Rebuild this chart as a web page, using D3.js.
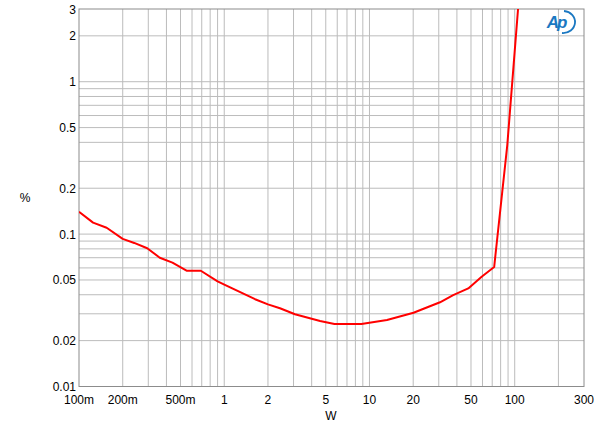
<!DOCTYPE html>
<html lang="en">
<head>
    <meta charset="UTF-8">
    <title>THD+N vs power</title>
    <script src="https://d3js.org/d3.v7.min.js"></script>
    <style>
        body { margin: 0; background: #fff; }
        svg text {
            font-family: "Liberation Sans", Arial, sans-serif;
            font-size: 12px;
            fill: #000;
        }
        .grid line {
            stroke: #bcbcbc;
            stroke-width: 1;
        }
        .frame {
            fill: none;
            stroke: #8c8c8c;
            stroke-width: 1;
        }
        .curve {
            fill: none;
            stroke: #ff0000;
            stroke-width: 2;
            stroke-linejoin: round;
        }
    </style>
</head>
<body>
<svg width="600" height="430"></svg>

<script>
    // output power (W) and THD+N (%)
    const watts = [0.1, 0.125, 0.155, 0.2, 0.24, 0.295, 0.36, 0.44, 0.55, 0.69, 0.9, 1.01,
                   1.63, 2.0, 2.42, 3.07, 4.57, 5.74, 8.8, 13.2, 20.1, 30.6, 37.7, 47.9,
                   59.2, 72.2, 88.9, 110];
    const thd = [0.140, 0.119, 0.110, 0.093, 0.0875, 0.0808, 0.0700, 0.0650, 0.0575, 0.0575,
                 0.0490, 0.0464, 0.0374, 0.0346, 0.0326, 0.0298, 0.0269, 0.0257, 0.0257,
                 0.0273, 0.0305, 0.0357, 0.0398, 0.0440, 0.0525, 0.0608, 0.384, 5.0];

    const xTickVals = [0.1, 0.2, 0.5, 1, 2, 5, 10, 20, 50, 100, 300];
    const xTickLabels = ["100m", "200m", "500m", "1", "2", "5", "10", "20", "50", "100", "300"];
    const yTickVals = [0.01, 0.02, 0.05, 0.1, 0.2, 0.5, 1, 2, 3];
    const yTickLabels = ["0.01", "0.02", "0.05", "0.1", "0.2", "0.5", "1", "2", "3"];

    const margin = { left: 79, right: 16, top: 9, bottom: 43.5 };
    const width = 600, height = 430;

    const svg = d3.select("svg");

    const x = d3.scaleLog()
        .domain([0.1, 300])
        .range([margin.left, width - margin.right]);

    const y = d3.scaleLog()
        .domain([0.01, 3])
        .range([height - margin.bottom, margin.top]);

    // grid lines at 1..9 of each decade
    const xGrid = [];
    for (let d = 0.1; d < 300; d *= 10) {
        for (let m = 1; m < 10; m++) {
            const v = +(d * m).toPrecision(3);
            if (v > 0.1 && v < 300) xGrid.push(v);
        }
    }
    const yGrid = [];
    for (let d = 0.01; d < 3; d *= 10) {
        for (let m = 1; m < 10; m++) {
            const v = +(d * m).toPrecision(3);
            if (v > 0.01 && v < 3) yGrid.push(v);
        }
    }

    const grid = svg.append("g").attr("class", "grid");
    grid.selectAll(".vx")
        .data(xGrid)
        .enter().append("line")
        .attr("x1", d => x(d)).attr("x2", d => x(d))
        .attr("y1", y.range()[1]).attr("y2", y.range()[0]);
    grid.selectAll(".hy")
        .data(yGrid)
        .enter().append("line")
        .attr("y1", d => y(d)).attr("y2", d => y(d))
        .attr("x1", x.range()[0]).attr("x2", x.range()[1]);

    svg.append("rect")
        .attr("class", "frame")
        .attr("x", x.range()[0])
        .attr("y", y.range()[1])
        .attr("width", x.range()[1] - x.range()[0])
        .attr("height", y.range()[0] - y.range()[1]);

    // tick labels
    svg.append("g")
        .selectAll("text")
        .data(xTickVals)
        .enter().append("text")
        .attr("x", d => x(d))
        .attr("y", y.range()[0] + 17)
        .attr("text-anchor", "middle")
        .text((d, i) => xTickLabels[i]);

    svg.append("g")
        .selectAll("text")
        .data(yTickVals)
        .enter().append("text")
        .attr("x", x.range()[0] - 3)
        .attr("y", d => y(d) + 4.5)
        .attr("text-anchor", "end")
        .text((d, i) => yTickLabels[i]);

    svg.append("text")
        .attr("x", 331)
        .attr("y", 420)
        .attr("text-anchor", "middle")
        .text("W");

    svg.append("text")
        .attr("x", 25)
        .attr("y", 202)
        .attr("text-anchor", "middle")
        .text("%");

    // curve
    svg.append("clipPath")
        .attr("id", "plot-clip")
        .append("rect")
        .attr("x", x.range()[0])
        .attr("y", y.range()[1])
        .attr("width", x.range()[1] - x.range()[0])
        .attr("height", y.range()[0] - y.range()[1]);

    const line = d3.line()
        .x((d, i) => x(watts[i]))
        .y(d => y(d));

    svg.append("path")
        .datum(thd)
        .attr("class", "curve")
        .attr("clip-path", "url(#plot-clip)")
        .attr("d", line);

    // Ap logo
    const logo = svg.append("g").attr("transform", "translate(558,22)");
    logo.append("text")
        .attr("x", -2)
        .attr("y", 6)
        .attr("text-anchor", "middle")
        .style("font-size", "17px")
        .style("font-style", "italic")
        .style("font-weight", "bold")
        .style("fill", "#1a78c2")
        .style("letter-spacing", "-2px")
        .text("Ap");
    logo.append("path")
        .attr("d", "M 6,-11 A 12,11 0 0 1 4,11")
        .attr("fill", "none")
        .attr("stroke", "#1a78c2")
        .attr("stroke-width", 1.8);
</script>

</body>
</html>
